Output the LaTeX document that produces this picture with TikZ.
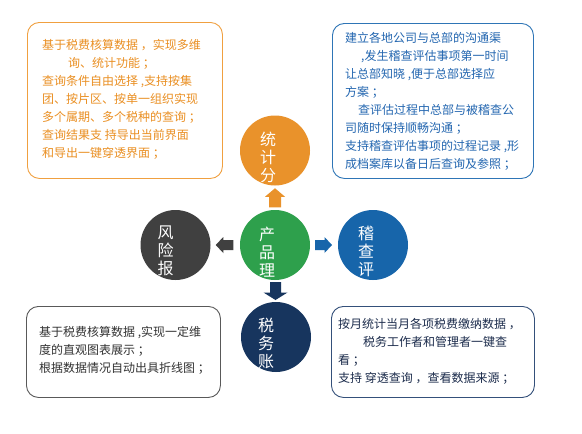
\documentclass[tikz,border=0pt]{standalone}
\usepackage{fontspec}
\newfontfamily\cjk{Noto Sans CJK SC}
\usetikzlibrary{calc}
\definecolor{cOrange}{HTML}{E9922B}
\definecolor{cGreen}{HTML}{2EA04C}
\definecolor{cDark}{HTML}{404040}
\definecolor{cBlue}{HTML}{1765AA}
\definecolor{cNavy}{HTML}{17355E}
\definecolor{tOrange}{HTML}{EA8F22}
\definecolor{bOrange}{HTML}{F0A040}
\definecolor{tBlue}{HTML}{2366B0}
\definecolor{bBlue}{HTML}{2E75B6}
\definecolor{bGray}{HTML}{595959}
\definecolor{tGray}{HTML}{333333}
\definecolor{bNavy}{HTML}{34507A}
\definecolor{tNavy}{HTML}{1C2C4C}
\begin{document}
\begin{tikzpicture}[x=1pt,y=-1pt,
  circ/.style={circle,minimum size=70pt,inner sep=0pt,draw=none},
  ctext/.style={font=\cjk\fontsize{16}{18}\selectfont,text=white,align=center,inner sep=0pt,anchor=north},
  box/.style={rounded corners=12pt,line width=0.9pt,inner sep=0pt,anchor=north west,fill=white},
  btext/.style={font=\cjk\fontsize{12}{18}\selectfont,align=left,inner sep=0pt,anchor=north west}
]
\useasboundingbox[fill=white] (0,0) rectangle (582,434);

% boxes
\node[box,draw=bOrange,minimum width=195pt,minimum height=156pt] (tl) at (27,22) {};
\node[box,draw=bBlue,minimum width=201pt,minimum height=155pt] (tr) at (332,23) {};
\node[box,draw=bGray,minimum width=194pt,minimum height=91pt] (bl) at (26,306) {};
\node[box,draw=bNavy,minimum width=203pt,minimum height=91pt] (br) at (331,306) {};

\node[btext,text=tOrange] (tlt) at ($(tl.north west)+(15,17)$) {基于税费核算数据 ，实现多维\\
\hspace*{26pt}询、统计功能 ；\\
查询条件自由选择 ,支持按集\\
团、按片区、按单一组织实现\\
多个属期、多个税种的查询 ；\\
查询结果支 持导出当前界面\\
和导出一键穿透界面 ；};

\node[btext,text=tBlue] (trt) at ($(tr.north west)+(13,9)$) {建立各地公司与总部的沟通渠\\
\hspace*{16pt},发生稽查评估事项第一时间\\
让总部知晓 ,便于总部选择应\\
方案 ；\\
\hspace*{13pt}查评估过程中总部与被稽查公\\
司随时保持顺畅沟通 ；\\
支持稽查评估事项的过程记录 ,形\\
成档案库以备日后查询及参照 ；};

\node[btext,text=tGray] (blt) at ($(bl.north west)+(13,20)$) {基于税费核算数据 ,实现一定维\\
度的直观图表展示 ；\\
根据数据情况自动出具折线图 ；};

\node[btext,text=tNavy] (brt) at ($(br.north west)+(7,12)$) {按月统计当月各项税费缴纳数据 ，\\
\hspace*{25pt}税务工作者和管理者一键查\\
看 ；\\
支持 穿透查询 ，查看数据来源 ；};

% circles
\node[circ,fill=cOrange] (top) at (275,150.5) {};
\node[circ,fill=cGreen] (mid) at (275,245) {};
\node[circ,fill=cDark] (lft) at (175.5,245) {};
\node[circ,fill=cBlue] (rgt) at (373,245) {};
\node[circ,fill=cNavy] (bot) at (276,337) {};

\begin{scope}
\clip (top.center) circle[radius=35pt];
\node[ctext] (topt) at ($(top.north)+(-7,16)$) {统\\计\\分};
\end{scope}
\begin{scope}
\clip (mid.center) circle[radius=35pt];
\node[ctext] (midt) at ($(mid.north)+(-8,17)$) {产\\品\\理};
\end{scope}
\begin{scope}
\clip (lft.center) circle[radius=35pt];
\node[ctext] (lftt) at ($(lft.north)+(-10,16)$) {风\\险\\报};
\end{scope}
\begin{scope}
\clip (rgt.center) circle[radius=35pt];
\node[ctext] (rgtt) at ($(rgt.north)+(-7,16)$) {稽\\查\\评};
\end{scope}
\begin{scope}
\clip (bot.center) circle[radius=35pt];
\node[ctext] (bott) at ($(bot.north)+(-10,16)$) {税\\务\\账};
\end{scope}

% block arrows
\coordinate (aU) at ($(top.south)!0.5!(mid.north)$);
\coordinate (aL) at ($(lft.east)!0.5!(mid.west)$);
\coordinate (aR) at ($(rgt.west)!0.5!(mid.east)$);
\coordinate (aD) at ($(bot.north)!0.5!(mid.south)$);

\begin{scope}[shift={(aU)}]
\fill[cOrange] (0,-9.5) -- (10,-1) -- (6,-1) -- (6,9.5) -- (-6,9.5) -- (-6,-1) -- (-10,-1) -- cycle;
\end{scope}
\begin{scope}[shift={(aL)}]
\fill[cDark] (-9.5,0) -- (-2,-8) -- (-2,-5) -- (8,-5) -- (8,5) -- (-2,5) -- (-2,8) -- cycle;
\end{scope}
\begin{scope}[shift={(aR)}]
\fill[cBlue] (8,0) -- (0.5,-8) -- (0.5,-5) -- (-9,-5) -- (-9,5) -- (0.5,5) -- (0.5,8) -- cycle;
\end{scope}
\begin{scope}[shift={(aD)}]
\fill[cNavy] (0,9) -- (12,1.5) -- (5.5,1.5) -- (5.5,-9) -- (-5.5,-9) -- (-5.5,1.5) -- (-12,1.5) -- cycle;
\end{scope}
\end{tikzpicture}
\end{document}
